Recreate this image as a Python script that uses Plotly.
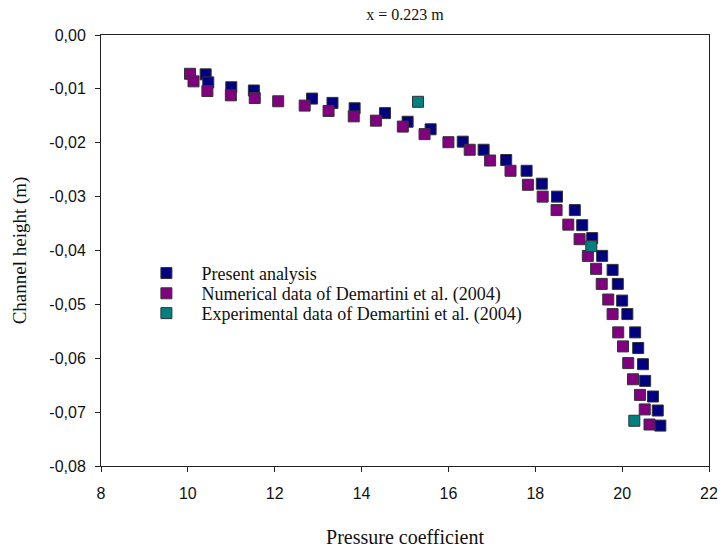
import plotly.graph_objects as go

# Present analysis
present_x = [10.41, 10.47, 11.00, 11.52, 12.86, 13.33, 13.84, 14.54, 15.06, 15.59,
             16.33, 16.81, 17.33, 17.80, 18.15, 18.50, 18.91, 19.08, 19.31, 19.54,
             19.78, 19.90, 20.00, 20.12, 20.30, 20.37, 20.48, 20.53, 20.71, 20.82, 20.88]
present_y = [-0.0073, -0.0088, -0.0097, -0.0103, -0.0118, -0.0126, -0.0136, -0.0145, -0.0161, -0.0175,
             -0.0198, -0.0213, -0.0232, -0.0252, -0.0276, -0.0300, -0.0325, -0.0353, -0.0377, -0.0410,
             -0.0436, -0.0462, -0.0493, -0.0518, -0.0552, -0.0581, -0.0611, -0.0642, -0.0671, -0.0697, -0.0725]

# Numerical data of Demartini et al. (2004)
numerical_x = [10.05, 10.13, 10.45, 10.99, 11.54, 12.08, 12.69, 13.24, 13.82, 14.33,
               14.95, 15.45, 16.00, 16.49, 16.96, 17.43, 17.83, 18.17, 18.49, 18.76,
               19.02, 19.21, 19.40, 19.53, 19.68, 19.78, 19.91, 20.02, 20.14, 20.25,
               20.41, 20.52, 20.63]
numerical_y = [-0.0072, -0.0086, -0.0104, -0.0112, -0.0117, -0.0123, -0.0131, -0.0141, -0.0151, -0.0159,
               -0.0170, -0.0184, -0.0199, -0.0213, -0.0233, -0.0252, -0.0278, -0.0300, -0.0325, -0.0352,
               -0.0379, -0.0410, -0.0434, -0.0462, -0.0491, -0.0518, -0.0552, -0.0578, -0.0609, -0.0639,
               -0.0668, -0.0695, -0.0723]

# Experimental data of Demartini et al. (2004)
experimental_x = [15.30, 19.29, 20.28]
experimental_y = [-0.0124, -0.0392, -0.0716]

x_ticks = [8, 10, 12, 14, 16, 18, 20, 22]
y_ticks = [0.0, -0.01, -0.02, -0.03, -0.04, -0.05, -0.06, -0.07, -0.08]
y_tick_labels = ["0,00", "-0,01", "-0,02", "-0,03", "-0,04", "-0,05", "-0,06", "-0,07", "-0,08"]

series = [
    ("Present analysis", present_x, present_y, "#000080", "legend"),
    ("Numerical data of Demartini et al. (2004)", numerical_x, numerical_y, "#800080", "legend2"),
    ("Experimental data of Demartini et al. (2004)", experimental_x, experimental_y, "#008080", "legend3"),
]

fig = go.Figure()
for name, xs, ys, col, lg in series:
    fig.add_trace(go.Scatter(
        x=xs, y=ys, mode="markers", name=name, legend=lg,
        marker=dict(symbol="square", size=11, color=col,
                    line=dict(color="#333333", width=1)),
    ))

axis_common = dict(
    showline=True, linecolor="#222222", linewidth=1, mirror=True,
    ticks="outside", ticklen=5, tickcolor="#222222", tickwidth=1,
    showgrid=False, zeroline=False,
    tickfont=dict(family="Liberation Sans, Arial", size=16, color="#111111"),
)

serif = "Liberation Serif, Times New Roman"
legend_font = dict(family=serif, size=18, color="#111111")
legend_common = dict(x=0.05, xanchor="left", yanchor="middle", itemwidth=60,
                     bgcolor="rgba(0,0,0,0)", font=legend_font)

fig.update_layout(
    width=728, height=554,
    margin=dict(l=101, r=10, t=35, b=73),
    paper_bgcolor="white", plot_bgcolor="white",
    title=dict(text="x = 0.223 m", x=0.5, xref="paper", y=1 - 14 / 554, yref="container",
               xanchor="center", yanchor="middle",
               font=dict(family=serif, size=16, color="#111111")),
    xaxis=dict(range=[8, 22], tickvals=x_ticks, ticklabelstandoff=8,
               title=dict(text="Pressure coefficient", standoff=28,
                          font=dict(family=serif, size=20, color="#111111")),
               **axis_common),
    yaxis=dict(range=[-0.08, 0.0], tickvals=y_ticks, ticktext=y_tick_labels, ticklabelstandoff=6,
               title=dict(text="Channel height (m)", standoff=17,
                          font=dict(family=serif, size=19, color="#111111")),
               **axis_common),
    legend=dict(y=0.447, **legend_common),
    legend2=dict(y=0.400, **legend_common),
    legend3=dict(y=0.354, **legend_common),
    showlegend=True,
)

fig.write_html("out.html")
